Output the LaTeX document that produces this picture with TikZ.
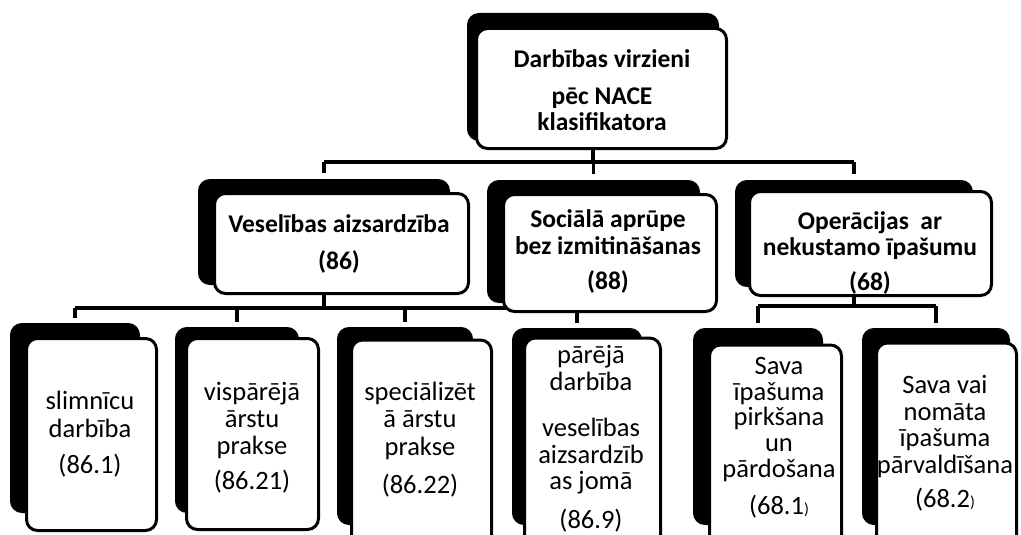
\documentclass[tikz,border=0pt]{standalone}
\usetikzlibrary{calc}
\usepackage{fontspec}
\setmainfont{Carlito}
\begin{document}
\begin{tikzpicture}[x=1pt,y=-1pt,
  shad/.style={fill=black,draw=black,line width=2pt,rounded corners=11pt,inner sep=0pt},
  front/.style={fill=white,draw=black,line width=3pt,rounded corners=11pt,inner sep=0pt},
  conn/.style={line width=3.5pt},
  bt/.style={font=\bfseries\fontsize{25.5}{27}\selectfont,align=center,inner sep=0pt},
  rt/.style={font=\fontsize{26.5}{26.5}\selectfont,align=center,inner sep=0pt}]
\path[use as bounding box] (0,0) rectangle (1021,535);
\clip (0,0) rectangle (1021,535);
% named shadow boxes (positions)
\node[shad,minimum width=250,minimum height=126] (ts) at (593,77) {};
\node[shad,minimum width=250,minimum height=104] (m1s) at (324,232) {};
\node[shad,minimum width=211,minimum height=121] (m2s) at (593.5,241.5) {};
\node[shad,minimum width=236,minimum height=105] (m3s) at (854,233.5) {};
\node[shad,minimum width=128,minimum height=188] (b1s) at (75,418) {};
\node[shad,minimum width=122,minimum height=184] (b2s) at (237,420) {};
\node[shad,minimum width=134,minimum height=196] (b3s) at (405,426) {};
\node[shad,minimum width=128,minimum height=195] (b4s) at (577,426.5) {};
\node[shad,minimum width=128,minimum height=195] (b5s) at (758,426.5) {};
\node[shad,minimum width=146,minimum height=195] (b6s) at (936,426.5) {};
% connectors
\coordinate (bus0) at (0,162);
\coordinate (bus1) at (0,308);
\coordinate (bus2) at (0,306);
\draw[conn] (ts |- 0,148) -- (ts |- bus0);
\draw[conn] (m1s |- bus0) -- (m3s |- bus0);
\foreach \n in {m1s,m2s,m3s} \draw[conn] (\n |- bus0) -- ($(\n.north)+(0,-6)$);
\draw[conn] (m1s |- 0,293) -- (m1s |- bus1);
\draw[conn] (b1s |- bus1) -- (b4s |- bus1);
\foreach \n in {b1s,b2s,b3s,b4s} \draw[conn] (\n |- bus1) -- ($(\n.north)+(0,-5)$);
\draw[conn] (m3s |- 0,295) -- (m3s |- bus2);
\draw[conn] (b5s |- bus2) -- (b6s |- bus2);
\foreach \n in {b5s,b6s} \draw[conn] (\n |- bus2) -- ($(\n.north)+(0,-5)$);
% front boxes
\node[front,minimum width=250,minimum height=120] (tf) at (601.5,88.5) {};
\node[front,minimum width=254,minimum height=100] (m1f) at (341.5,243.5) {};
\node[front,minimum width=213,minimum height=117] (m2f) at (610,253) {};
\node[front,minimum width=242,minimum height=104] (m3f) at (870.5,243.5) {};
\node[front,minimum width=130,minimum height=192] (b1f) at (91.5,434.5) {};
\node[front,minimum width=132,minimum height=191] (b2f) at (252.5,434) {};
\node[front,minimum width=140,minimum height=208] (b3f) at (421.5,444) {};
\node[front,minimum width=136,minimum height=210] (b4f) at (592.5,443) {};
\node[front,minimum width=132,minimum height=203] (b5f) at (775.5,446.5) {};
\node[front,minimum width=140,minimum height=205] (b6f) at (946.5,445.5) {};
% texts
\node[bt] (tt) at (602,90) {Darbības virzieni\\[10pt] pēc NACE\\[-1pt] klasifikatora};
\node[bt] (m1t) at (339,243.5) {Veselības aizsardzība\\[10pt] (86)};
\node[bt] (m2t) at (608,251.5) {Sociālā aprūpe\\ bez izmitināšanas\\[8pt] (88)};
\node[bt] (m3t) at (870,252.5) {Operācijas\ \ ar\\[-1pt] nekustamo īpašumu\\[8pt] (68)};
\node[rt] (b1t) at (90,434.5) {slimnīcu\\[1pt] darbība\\[10pt] (86.1)};
\node[rt] (b2t) at (252,437.5) {vispārējā\\[1pt] ārstu\\ prakse\\[9pt] (86.21)};
\node[rt] (b3t) at (420,439.5) {speciālizēt\\[1pt] ā ārstu\\[1pt] prakse\\[12pt] (86.22)};
\node[rt] (b4t) at (591,438.5) {pārējā\\ darbība\\[20pt] veselības\\ aizsardzīb\\ as jomā\\[12pt] (86.9)};
\node[rt] (b5t) at (779,437.5) {Sava\\[-1pt] īpašuma\\[-1pt] pirkšana\\[-1pt] un\\ pārdošana\\[10pt] (68.1{\fontsize{16}{16}\selectfont)}};
\node[rt] (b6t) at (945,443.5) {Sava vai\\ nomāta\\ īpašuma\\ pārvaldīšana\\[8pt] (68.2{\fontsize{16}{16}\selectfont)}};
\end{tikzpicture}
\end{document}
